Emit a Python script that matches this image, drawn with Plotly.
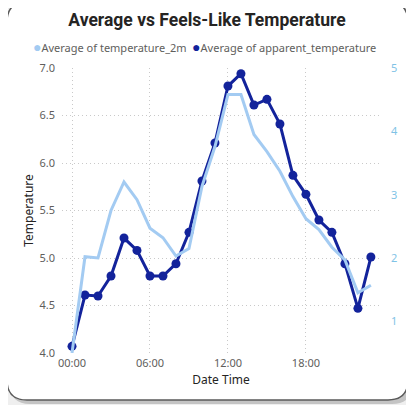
import plotly.graph_objects as go

hours = list(range(24))
tick_vals = [0, 6, 12, 18]
tick_text = ["00:00", "06:00", "12:00", "18:00"]

# right axis series (light blue)
temperature_2m = [0.50, 2.02, 2.00, 2.75, 3.20, 2.92, 2.47, 2.32, 2.03, 2.15, 3.13, 3.76,
                  4.58, 4.58, 3.95, 3.68, 3.37, 2.97, 2.62, 2.45, 2.17, 1.97, 1.45, 1.57]
# left axis series (dark blue)
apparent_temperature = [4.07, 4.61, 4.60, 4.81, 5.21, 5.08, 4.81, 4.81, 4.94, 5.27, 5.81, 6.21,
                        6.81, 6.94, 6.61, 6.67, 6.41, 5.87, 5.67, 5.40, 5.27, 4.94, 4.47, 5.01]

LIGHT = "#A3CBF2"
DARK = "#13239B"
OFF = 8  # page body margin
W, H = 414 - OFF, 405 - OFF
L, R, T, B = 62 - OFF, 34, 68 - OFF, 52


def rrect(x0, y0, x1, y1, r):
    # rounded rectangle given in window pixels -> path in paper coords
    pw, ph = W - L - R, H - T - B
    px = lambda v: (v - OFF - L) / pw
    py = lambda v: (H - B - (v - OFF)) / ph
    return (f"M {px(x0 + r)},{py(y0)} L {px(x1 - r)},{py(y0)} Q {px(x1)},{py(y0)} {px(x1)},{py(y0 + r)} "
            f"L {px(x1)},{py(y1 - r)} Q {px(x1)},{py(y1)} {px(x1 - r)},{py(y1)} "
            f"L {px(x0 + r)},{py(y1)} Q {px(x0)},{py(y1)} {px(x0)},{py(y1 - r)} "
            f"L {px(x0)},{py(y0 + r)} Q {px(x0)},{py(y0)} {px(x0 + r)},{py(y0)} Z")


fig = go.Figure()
fig.add_trace(go.Scatter(x=hours, y=temperature_2m, mode="lines", name="Average of temperature_2m",
                         line=dict(color=LIGHT, width=3), yaxis="y2", showlegend=False))
fig.add_trace(go.Scatter(x=hours, y=apparent_temperature, mode="lines+markers",
                         name="Average of apparent_temperature",
                         line=dict(color=DARK, width=3), marker=dict(size=9, color=DARK),
                         showlegend=False))

font = "Segoe UI, Noto Sans, sans-serif"
grid = dict(showgrid=True, gridcolor="#c9c9c9", griddash="1px,3px", gridwidth=1)
fig.update_layout(
    width=W, height=H, margin=dict(l=L, r=R, t=T, b=B, autoexpand=False),
    paper_bgcolor="#efefef", plot_bgcolor="rgba(0,0,0,0)",
    font=dict(family=font, size=11, color="#605E5C"),
    title=dict(text="<b>Average vs Feels-Like Temperature</b>", x=(207 - OFF) / W, xanchor="center",
               y=1 - (20 - OFF) / H, yanchor="middle", automargin=False,
               font=dict(family="Roboto", size=17.5, color="#252423")),
    xaxis=dict(range=[-0.77, 23.7], tickvals=tick_vals, ticktext=tick_text, automargin=False,
               zeroline=False, showline=False, ticklabelstandoff=2,
               title=dict(text="Date Time", font=dict(size=12, color="#252423"), standoff=6), **grid),
    yaxis=dict(range=[4.0, 7.0], dtick=0.5, tickformat=".1f", automargin=False,
               zeroline=False, showline=False, ticklabelstandoff=6,
               title=dict(text="Temperature", font=dict(size=12, color="#252423"), standoff=3), **grid),
    yaxis2=dict(overlaying="y", side="right", range=[0.5, 5.0], dtick=1, automargin=False,
                showgrid=False, zeroline=False, showline=False, ticklabelstandoff=10,
                tickfont=dict(color="#7FC3E6")),
    shapes=[
        dict(type="path", xref="paper", yref="paper", path=rrect(10, 5, 412, 404, 20),
             fillcolor="#c4c4c4", line=dict(width=0), layer="below"),
        dict(type="path", xref="paper", yref="paper", path=rrect(7, 2, 408, 400, 20),
             fillcolor="white", line=dict(color="#5a5a5a", width=1.5), layer="below"),
    ],
    annotations=[
        dict(text=f"<span style='color:{LIGHT}; font-size:14px'>●</span>Average of temperature_2m\u2002"
                  f"<span style='color:{DARK}; font-size:14px'>●</span>Average of apparent_temperature",
             xref="paper", yref="paper", x=(31 - OFF - L) / (W - L - R),
             y=(H - B - (46 - OFF)) / (H - T - B),
             xanchor="left", yanchor="middle", showarrow=False,
             font=dict(family=font, size=11, color="#605E5C")),
    ],
)

fig.write_html("out.html")
